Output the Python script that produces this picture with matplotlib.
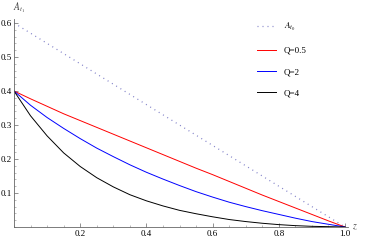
import numpy as np
import matplotlib
matplotlib.use("Agg")
import matplotlib.pyplot as plt
from matplotlib.ticker import MultipleLocator

# values
z = [0.0, 0.05, 0.1, 0.15, 0.2, 0.25, 0.3, 0.35, 0.4, 0.45, 0.5,
     0.55, 0.6, 0.65, 0.7, 0.75, 0.8, 0.85, 0.9, 0.95, 1.0]
q05 = [0.400, 0.377, 0.355, 0.333, 0.313, 0.293, 0.273, 0.253, 0.233, 0.213, 0.193,
       0.173, 0.154, 0.134, 0.114, 0.094, 0.075, 0.056, 0.037, 0.018, 0.0]
q2 = [0.400, 0.358, 0.322, 0.290, 0.260, 0.232, 0.207, 0.183, 0.161, 0.141, 0.122,
      0.104, 0.088, 0.073, 0.060, 0.048, 0.037, 0.026, 0.016, 0.008, 0.0]
q4 = [0.400, 0.327, 0.268, 0.218, 0.178, 0.145, 0.118, 0.095, 0.077, 0.062, 0.049,
      0.039, 0.030, 0.022, 0.016, 0.011, 0.007, 0.004, 0.002, 0.001, 0.0]
z0 = [0.0, 1.0]
at0 = [0.6, 0.0]

xticks = [0.2, 0.4, 0.6, 0.8, 1.0]
yticks = [0.1, 0.2, 0.3, 0.4, 0.5, 0.6]

plt.rcParams['font.family'] = ['Liberation Serif', 'DejaVu Serif']
plt.rcParams['mathtext.fontset'] = 'stix'

W, H = 365, 241
fig = plt.figure(figsize=(W / 100, H / 100), dpi=100)
ax = fig.add_axes([14 / W, (H - 227) / H, 1.01 * 331 / W, 0.612 * 340 / H])

lw = 0.7
ax.plot(z0, at0, color='#8080c8', lw=0.9, linestyle=(0, (0.8, 3.2)), label=r'$A_{t_0}$')
ax.plot(z, q05, color='red', lw=lw, label='Q=0.5')
ax.plot(z, q2, color='blue', lw=lw, label='Q=2')
ax.plot(z, q4, color='black', lw=lw, label='Q=4')

ax.set_xlim(0, 1.01)
ax.set_ylim(0, 0.612)
for s in ['top', 'right']:
    ax.spines[s].set_visible(False)
for s in ['left', 'bottom']:
    ax.spines[s].set_color('#666666')
    ax.spines[s].set_linewidth(0.6)

ax.set_xticks(xticks)
ax.set_xticklabels(['0.2', '0.4', '0.6', '0.8', '1.0'])
ax.set_yticks(yticks)
ax.set_yticklabels(['0.1', '0.2', '0.3', '0.4', '0.5', '0.6'])
ax.xaxis.set_minor_locator(MultipleLocator(0.05))
ax.yaxis.set_minor_locator(MultipleLocator(0.02))
ax.tick_params(which='major', direction='in', length=3, width=0.5, color='#666666',
               labelsize=6.5, pad=2.5)
ax.tick_params(which='minor', direction='in', length=1.6, width=0.4, color='#888888')
ax.tick_params(axis='y', pad=1.5)

fig.text(355 / W, 1 - 227 / H, r'$z$', fontsize=7, ha='center', va='center', color='#444444')
fig.text(19 / W, 1 - 8 / H, r'$A_{t_1}$', fontsize=7, ha='center', va='center', color='#444444')

ax.legend(loc='center left', bbox_to_anchor=(257 / W, 1 - 59.5 / H),
          bbox_transform=fig.transFigure, frameon=False, fontsize=6.5,
          handlelength=2.1, handletextpad=0.9, labelspacing=1.45,
          borderpad=0, borderaxespad=0)

fig.savefig('out.png', dpi=100)
